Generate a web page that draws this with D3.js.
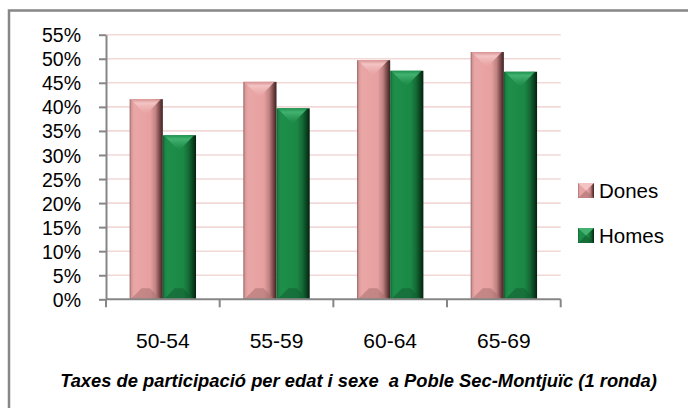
<!DOCTYPE html>
<html><head><meta charset="utf-8">
<script src="https://cdn.jsdelivr.net/npm/d3@7"></script>
<style>
html,body{margin:0;padding:0;background:#fff;}
svg{display:block;font-family:"Liberation Sans",Arial,sans-serif;}
</style>
</head><body>
<svg id="chart" width="688" height="408"></svg>
<script>
const categories = ["50-54", "55-59", "60-64", "65-69"];
const seriesNames = ["Dones", "Homes"];
const donesValues = [41.6, 45.2, 49.7, 51.4];
const homesValues = [34.1, 39.7, 47.5, 47.3];
const yTickValues = [0, 5, 10, 15, 20, 25, 30, 35, 40, 45, 50, 55];
const titleText = "Taxes de participació per edat i sexe  a Poble Sec-Montjuïc (1 ronda)";

const svg = d3.select("#chart");
const W = 688, H = 408;
const plot = {left: 106, right: 560.7, top: 34.7, bottom: 299.3};

const palette = {
  Dones: {stops: [[0,"#9a6464"],[0.06,"#d69a9a"],[0.14,"#eaa6a6"],[0.62,"#e7a0a0"],[0.78,"#c08282"],[0.9,"#7a4848"],[1,"#3c2222"]],
          top: "#f4c4c4", topEdge: "#d89292", bottom: "#a87070"},
  Homes: {stops: [[0,"#0f5e2e"],[0.06,"#1a8445"],[0.14,"#1e8f4b"],[0.62,"#1b8845"],[0.78,"#146a35"],[0.9,"#0a4420"],[1,"#04210e"]],
          top: "#43b271", topEdge: "#1f9450", bottom: "#135c31"}
};

const defs = svg.append("defs");
seriesNames.forEach(s => {
  const g = defs.append("linearGradient").attr("id", "grad-" + s)
    .attr("x1", "0").attr("x2", "1").attr("y1", "0").attr("y2", "0");
  palette[s].stops.forEach(st => g.append("stop").attr("offset", st[0]).attr("stop-color", st[1]));
  const t = defs.append("linearGradient").attr("id", "top-" + s)
    .attr("x1", "0").attr("x2", "0").attr("y1", "0").attr("y2", "1");
  t.append("stop").attr("offset", 0).attr("stop-color", palette[s].topEdge);
  t.append("stop").attr("offset", 0.25).attr("stop-color", palette[s].top);
  t.append("stop").attr("offset", 1).attr("stop-color", palette[s].stops[3][1]).attr("stop-opacity", 0.6);
});

// Frame (left and top edges visible)
svg.append("rect").attr("x", 9).attr("y", 10.5).attr("width", W + 20).attr("height", H + 20)
  .attr("fill", "none").attr("stroke", "#878787").attr("stroke-width", 2.5);

const y = d3.scaleLinear().domain([0, 55]).range([plot.bottom, plot.top]);
const x0 = d3.scaleBand().domain(categories).range([plot.left, plot.right]).paddingInner(0).paddingOuter(0);
const x1 = d3.scaleBand().domain(seriesNames).range([0, x0.bandwidth()]).paddingInner(0).paddingOuter(0.712);

// gridlines
svg.append("g").selectAll("line").data(yTickValues.filter(v => v > 0)).join("line")
  .attr("x1", plot.left).attr("x2", plot.right)
  .attr("y1", d => y(d)).attr("y2", d => y(d))
  .attr("stroke", "#f2d9d8").attr("stroke-width", 1.6);

// y axis
const yAxis = svg.append("g").attr("transform", `translate(${plot.left},0)`)
  .call(d3.axisLeft(y).tickValues(yTickValues).tickFormat(d => d + "%").tickSize(7).tickPadding(18).tickSizeOuter(0));
yAxis.select(".domain").attr("stroke", "#868686").attr("stroke-width", 2);
yAxis.selectAll(".tick line").attr("stroke", "#868686").attr("stroke-width", 2);
yAxis.selectAll(".tick text").attr("font-family", "'Liberation Sans', Arial, sans-serif").attr("font-size", 19.5)
  .attr("fill", "#000").attr("dy", "0.36em");

// bars
const data = categories.map((c, i) => ({cat: c, vals: [
  {s: "Dones", v: donesValues[i]}, {s: "Homes", v: homesValues[i]}]}));

const groups = svg.append("g").selectAll("g").data(data).join("g")
  .attr("transform", d => `translate(${x0(d.cat)},0)`);

const bars = groups.selectAll("g.bar").data(d => d.vals).join("g").attr("class", "bar");
bars.each(function(d) {
  const g = d3.select(this);
  const bx = x1(d.s), bw = x1.bandwidth();
  const by = y(d.v), bh = y(0) - y(d.v);
  const depth = Math.min(bw / 2 - 1, bh / 2);
  g.append("rect").attr("x", bx).attr("y", by).attr("width", bw).attr("height", bh)
    .attr("fill", `url(#grad-${d.s})`);
  // top bevel triangle
  g.append("path").attr("d",
    `M${bx + 1},${by} L${bx + bw - 2},${by} L${bx + bw / 2 - 0.5},${by + depth} Z`)
    .attr("fill", `url(#top-${d.s})`);
  // bottom bevel trapezoid
  const bd = Math.min(11, bh / 3);
  g.append("path").attr("d",
    `M${bx + 1},${by + bh} L${bx + bw - 2},${by + bh} L${bx + bw - 2 - bd},${by + bh - bd} L${bx + 1 + bd},${by + bh - bd} Z`)
    .attr("fill", palette[d.s].bottom).attr("opacity", 0.55);
});

// x axis
const xAxisG = svg.append("g").attr("transform", `translate(0,${plot.bottom})`);
xAxisG.append("line").attr("x1", plot.left).attr("x2", plot.right).attr("y1", 0).attr("y2", 0)
  .attr("stroke", "#868686").attr("stroke-width", 2);
const boundaries = categories.map(c => x0(c)).concat([x0(categories[categories.length - 1]) + x0.bandwidth()]);
xAxisG.selectAll("line.tk").data(boundaries).join("line").attr("class", "tk")
  .attr("x1", d => d).attr("x2", d => d).attr("y1", 0).attr("y2", 8)
  .attr("stroke", "#868686").attr("stroke-width", 2);
xAxisG.selectAll("text").data(categories).join("text")
  .attr("x", d => x0(d) + x0.bandwidth() / 2).attr("y", 48.5)
  .attr("text-anchor", "middle").attr("font-size", 21).attr("fill", "#000").text(d => d);

// legend
const legend = svg.append("g").attr("transform", "translate(578,183)");
const li = legend.selectAll("g").data(seriesNames).join("g")
  .attr("transform", (d, i) => `translate(0,${i * 45})`);
li.append("rect").attr("width", 16).attr("height", 15).attr("fill", d => `url(#grad-${d})`);
li.append("path").attr("d", "M0,0 L16,0 L8,7.5 Z").attr("fill", d => palette[d].top);
li.append("path").attr("d", "M0,15 L16,15 L8,7.5 Z").attr("fill", d => palette[d].bottom).attr("opacity", 0.6);
li.append("text").attr("x", 21).attr("y", 14.5).attr("font-size", 20.5).attr("fill", "#000").text(d => d);

// title (font size fitted to the reference's width)
const title = svg.append("text").attr("x", 358.5).attr("y", 387).attr("text-anchor", "middle")
  .attr("font-family", "'Liberation Sans', Arial, sans-serif")
  .attr("font-size", 18).attr("font-weight", "bold").attr("font-style", "italic")
  .attr("fill", "#000").style("white-space", "pre").text(titleText);
const tl = title.node().getComputedTextLength();
if (tl > 0) title.attr("font-size", Math.min(22, 18 * 597 / tl));
</script>
</body></html>
